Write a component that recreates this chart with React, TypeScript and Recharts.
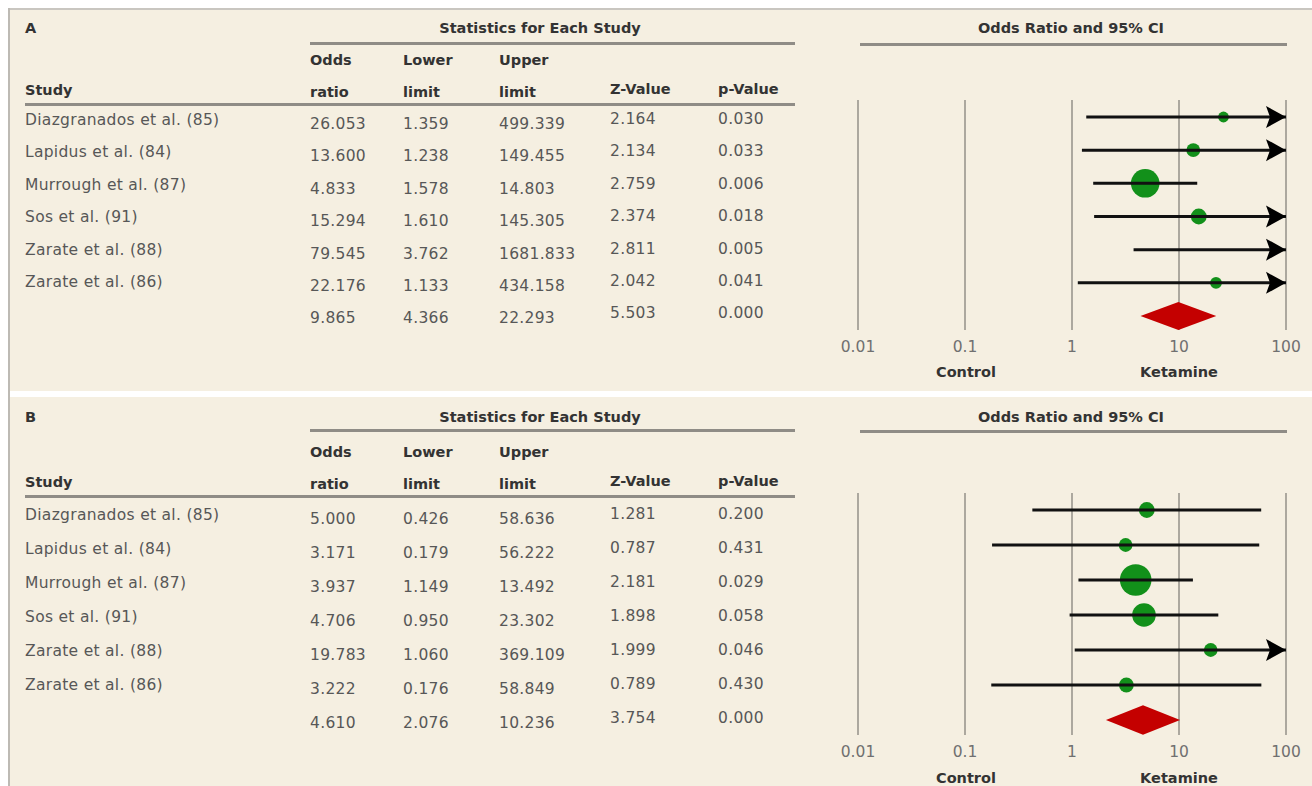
import React from 'react'
import {CartesianGrid, Scatter, ScatterChart, XAxis, YAxis} from 'recharts'

// ---- data ----
const studies = ['Diazgranados et al. (85)', 'Lapidus et al. (84)', 'Murrough et al. (87)', 'Sos et al. (91)', 'Zarate et al. (88)', 'Zarate et al. (86)']

const oddsA = [26.053, 13.6, 4.833, 15.294, 79.545, 22.176]
const lowerA = [1.359, 1.238, 1.578, 1.61, 3.762, 1.133]
const upperA = [499.339, 149.455, 14.803, 145.305, 1681.833, 434.158]
const zA = [2.164, 2.134, 2.759, 2.374, 2.811, 2.042]
const pA = [0.03, 0.033, 0.006, 0.018, 0.005, 0.041]
const weightA = [7.3, 12, 51, 15.6, 4.9, 8.8]
const summaryA = [9.865, 4.366, 22.293, 5.503, 0.0]

const oddsB = [5.0, 3.171, 3.937, 4.706, 19.783, 3.222]
const lowerB = [0.426, 0.179, 1.149, 0.95, 1.06, 0.176]
const upperB = [58.636, 56.222, 13.492, 23.302, 369.109, 58.849]
const zB = [1.281, 0.787, 2.181, 1.898, 1.999, 0.789]
const pB = [0.2, 0.431, 0.029, 0.058, 0.046, 0.43]
const weightB = [10.4, 7.9, 41.4, 23.3, 7.9, 9.1]
const summaryB = [4.61, 2.076, 10.236, 3.754, 0.0]

const headTop = ['Odds', 'Lower', 'Upper']
const headBottom = ['ratio', 'limit', 'limit', 'Z-Value', 'p-Value']
const ticks = [0.01, 0.1, 1, 10, 100]
const tickLabels = ['0.01', '0.1', '1', '10', '100']

// ---- layout ----
const FONT = '"DejaVu Sans", Verdana, sans-serif'
const colX = [310, 403, 499, 610, 718]
const DIAMOND = 0.42
const HEAD = '#333'
const BODY = '#575757'

type Layout = {
    top: number
    bottom: number
    titleY: number
    lineY: number
    head1Y: number
    head2Y: number
    ruleY: number
    rowY: number
    rowGap: number
    plotTop: number
    plotBottom: number
    firstDot: number
    lastDot: number
    labelY: number
    dotScale: number
}

const layoutA: Layout = {top: 8, bottom: 391, titleY: 28, lineY: 43, head1Y: 60, head2Y: 91, ruleY: 104, rowY: 120, rowGap: 32.4,
    plotTop: 100, plotBottom: 330, firstDot: 117, lastDot: 316, labelY: 372, dotScale: 2.0}
const layoutB: Layout = {top: 397, bottom: 786, titleY: 417, lineY: 430, head1Y: 452, head2Y: 483, ruleY: 496, rowY: 515, rowGap: 34,
    plotTop: 493, plotBottom: 735, firstDot: 510, lastDot: 720, labelY: 778, dotScale: 2.45}

type TextProps = {x: number, y: number, children: React.ReactNode, color?: string, weight?: number, size?: number, center?: boolean}
const T = ({x, y, children, color = BODY, weight = 400, size = 15.5, center = false}: TextProps) => (
    <div style={{position: 'absolute', left: center ? x - 200 : x, top: y - 10, width: center ? 400 : undefined,
        textAlign: center ? 'center' : 'left', lineHeight: '20px', fontSize: size, fontWeight: weight, color,
        whiteSpace: 'nowrap', fontFamily: FONT, letterSpacing: weight > 400 ? 0 : 0.3}}>{children}</div>
)

const Rule = ({x1, x2, y}: {x1: number, x2: number, y: number}) => (
    <div style={{position: 'absolute', left: x1, top: y - 1.5, width: x2 - x1, height: 3, background: '#8f8c86'}} />
)

const empty = () => <g />

const ciLine = (props: any) => {
    const pts = props.points || []
    const segs = []
    for (let k = 0; k + 1 < pts.length; k += 2) {
        segs.push(<line key={k} x1={pts[k].x} y1={pts[k].y} x2={pts[k + 1].x} y2={pts[k + 1].y} stroke="#111" strokeWidth={3} />)
    }
    return <g>{segs}</g>
}

const diamondLine = (props: any) => {
    const pts = props.points || []
    return <polygon points={pts.map((p: any) => `${p.x},${p.y}`).join(' ')} fill="#c40000" stroke="none" />
}

const arrowShape = (props: any) => {
    const {cx, cy} = props
    return <polygon points={`${cx},${cy} ${cx - 20},${cy - 11} ${cx - 16},${cy} ${cx - 20},${cy + 11}`} fill="#000" />
}

const dotShape = (k: number) => (props: any) => {
    const {cx, cy, payload} = props
    return <circle cx={cx} cy={cy} r={k * Math.sqrt(payload.w)} fill="#12901a" />
}

type PlotProps = {odds: number[], lower: number[], upper: number[], weights: number[], summary: number[], layout: Layout}

const ForestPlot = ({odds, lower, upper, weights, summary, layout}: PlotProps) => {
    const H = layout.plotBottom - layout.plotTop
    const span = 6 / (layout.lastDot - layout.firstDot) * H
    const d0 = -(layout.firstDot - layout.plotTop) / H * span
    const d1 = d0 + span
    const ciPoints = odds.flatMap((o, i) => [{x: lower[i], y: i}, {x: Math.min(upper[i], 100), y: i}])
    const dots = odds.map((o, i) => ({x: o, y: i, w: weights[i]}))
    const arrows = upper.map((u, i) => ({x: 100, y: i, u})).filter(d => d.u > 100)
    const [so, sl, su] = summary
    const diamond = [{x: sl, y: 6}, {x: so, y: 6 - DIAMOND}, {x: su, y: 6}, {x: so, y: 6 + DIAMOND}]
    return (
        <div style={{position: 'absolute', left: 838, top: layout.plotTop - 12}}>
            <ScatterChart width={474} height={H + 50} margin={{top: 12, right: 26, bottom: 8, left: 20}}>
                <CartesianGrid vertical horizontal={false} stroke="#9a968e" strokeWidth={1.6} />
                <XAxis type="number" dataKey="x" scale="log" domain={[0.01, 100]} ticks={ticks} allowDataOverflow
                    axisLine={false} tickLine={false} interval={0} height={30} tickMargin={5}
                    tick={{fill: '#707070', fontSize: 15.5, fontFamily: FONT}}
                    tickFormatter={(v: number) => tickLabels[ticks.indexOf(v)]} />
                <YAxis type="number" dataKey="y" domain={[d0, d1]} reversed hide allowDataOverflow />
                <Scatter data={dots} isAnimationActive={false} shape={dotShape(layout.dotScale)} />
                <Scatter data={ciPoints} isAnimationActive={false} shape={empty} line={ciLine} />
                <Scatter data={arrows} isAnimationActive={false} shape={arrowShape} />
                <Scatter data={diamond} isAnimationActive={false} shape={empty} line={diamondLine} />
            </ScatterChart>
        </div>
    )
}

type PanelProps = PlotProps & {letter: string, z: number[], p: number[]}

const Panel = ({letter, odds, lower, upper, z, p, weights, summary, layout}: PanelProps) => {
    const L = layout
    const rows = [...odds.map((o, i) => [o, lower[i], upper[i], z[i], p[i]]), summary]
    return (
        <>
            <T x={25} y={L.titleY} color={HEAD} weight={700} size={14.5}>{letter}</T>
            <T x={540} y={L.titleY} color={HEAD} weight={700} size={14.5} center>Statistics for Each Study</T>
            <Rule x1={310} x2={795} y={L.lineY} />
            <T x={1071} y={L.titleY} color={HEAD} weight={700} size={14.5} center>Odds Ratio and 95% CI</T>
            <Rule x1={860} x2={1287} y={L.lineY + 1} />
            {headTop.map((h, i) => <T key={h} x={colX[i]} y={L.head1Y} color={HEAD} weight={700} size={14.5}>{h}</T>)}
            <T x={25} y={L.head2Y - 1} color={HEAD} weight={700} size={14.5}>Study</T>
            {headBottom.map((h, i) => (
                <T key={i} x={colX[i]} y={i < 3 ? L.head2Y + 1 : L.head2Y - 2} color={HEAD} weight={700} size={14.5}>{h}</T>
            ))}
            <Rule x1={25} x2={795} y={L.ruleY} />
            {studies.map((s, i) => <T key={s} x={25} y={L.rowY + i * L.rowGap}>{s}</T>)}
            {rows.map((r, i) => r.map((v, j) => (
                <T key={`${i}-${j}`} x={colX[j]} y={L.rowY + i * L.rowGap + (j < 3 ? 4 : -1)}>{v.toFixed(3)}</T>
            )))}
            <ForestPlot odds={odds} lower={lower} upper={upper} weights={weights} summary={summary} layout={layout} />
            <T x={966} y={L.labelY} color={HEAD} weight={700} size={14.5} center>Control</T>
            <T x={1179} y={L.labelY} color={HEAD} weight={700} size={14.5} center>Ketamine</T>
        </>
    )
}

const App = () => (
    <div style={{position: 'fixed', left: 0, top: 0, width: 1312, height: 786, overflow: 'hidden', background: '#fff'}}>
        <div style={{position: 'absolute', left: 8, top: layoutA.top, width: 1304, height: layoutA.bottom - layoutA.top, background: '#f5efe1'}} />
        <div style={{position: 'absolute', left: 8, top: layoutB.top, width: 1304, height: layoutB.bottom - layoutB.top, background: '#f5efe1'}} />
        <div style={{position: 'absolute', left: 8, top: 8, width: 1304, height: 1.5, background: '#c9c6c0'}} />
        <div style={{position: 'absolute', left: 8, top: 8, width: 1.5, height: 778, background: '#bdbab4'}} />
        <Panel letter="A" odds={oddsA} lower={lowerA} upper={upperA} z={zA} p={pA} weights={weightA} summary={summaryA} layout={layoutA} />
        <Panel letter="B" odds={oddsB} lower={lowerB} upper={upperB} z={zB} p={pB} weights={weightB} summary={summaryB} layout={layoutB} />
    </div>
)

export default App
